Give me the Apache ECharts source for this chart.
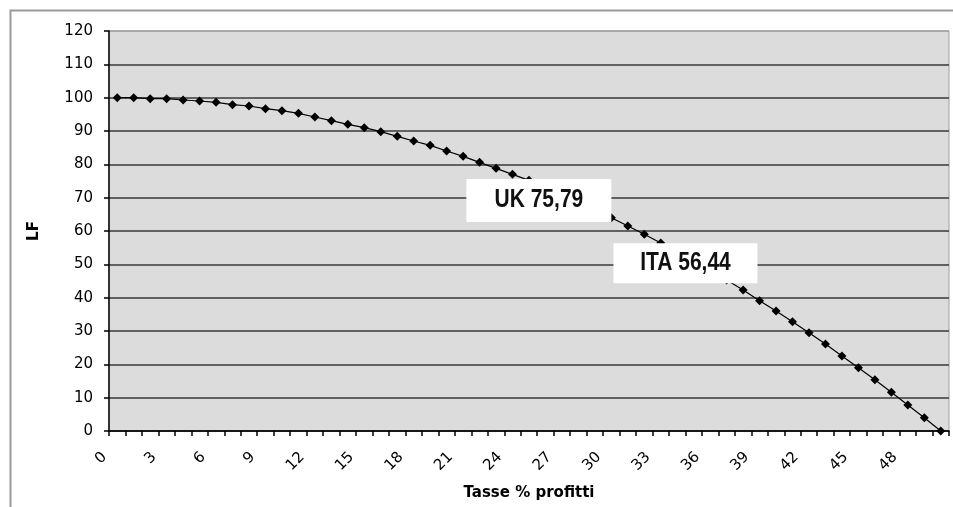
<!DOCTYPE html>
<html>
<head>
<meta charset="utf-8">
<script src="https://cdn.jsdelivr.net/npm/echarts@6/dist/echarts.min.js"></script>
<style>
html,body{margin:0;padding:0;background:#fff;}
#chart{width:953px;height:507px;}
</style>
</head>
<body>
<div id="chart"></div>
<script>
// Categories: taxes % of profits
const categories = [];
for (let i = 0; i <= 50; i++) categories.push(String(i));

// LF values
const lfValues = [
  100, 100, 99.7, 99.7, 99.3, 99.0, 98.6, 97.9, 97.5, 96.7,
  96.1, 95.3, 94.2, 93.1, 92.0, 91.0, 89.8, 88.4, 87.0, 85.7,
  84.0, 82.4, 80.6, 78.8, 77.0, 75.2, 73.0, 70.8, 68.6, 66.3,
  64.0, 61.5, 59.0, 56.4, 53.8, 51.0, 48.2, 45.3, 42.3, 39.1,
  36.0, 32.8, 29.5, 26.1, 22.5, 19.0, 15.4, 11.6, 7.8, 4.0,
  0
];

// Annotation labels (text and position in data units: category index, LF)
const annotationTexts = ['UK 75,79', 'ITA 56,44'];
const annotationPos = [[25.6, 69.15], [34.5, 50.3]];

const yTicks = [0,10,20,30,40,50,60,70,80,90,100,110,120];

const chart = echarts.init(document.getElementById('chart'), null, {renderer: 'canvas'});
const gridColors = yTicks.map((v, i) => i === yTicks.length - 1 ? '#a0a0a0' : '#3a3a3a');

const option = {
  animation: false,
  backgroundColor: '#ffffff',
  grid: {
    left: 109, right: 4, top: 31, bottom: 76,
    show: true, backgroundColor: '#dcdcdc', borderColor: '#a0a0a0', borderWidth: 1
  },
  xAxis: {
    type: 'category',
    data: categories,
    boundaryGap: true,
    name: 'Tasse % profitti',
    nameLocation: 'middle',
    nameGap: 55,
    nameTextStyle: {fontFamily: 'DejaVu Sans', fontWeight: 'bold', fontSize: 15, color: '#000'},
    axisLine: {show: true, lineStyle: {color: '#000', width: 1.5}},
    axisTick: {show: true, interval: 0, length: 5, lineStyle: {color: '#000', width: 1.5}},
    axisLabel: {
      interval: 2, rotate: 45, margin: 11,
      padding: [0, 18, 0, 0],
      fontFamily: 'DejaVu Sans', fontSize: 15, color: '#000'
    },
    splitLine: {show: false}
  },
  yAxis: {
    type: 'value',
    min: 0, max: 120, interval: 10,
    name: 'LF',
    nameLocation: 'middle',
    nameGap: 67,
    nameTextStyle: {fontFamily: 'DejaVu Sans', fontWeight: 'bold', fontSize: 15, color: '#000'},
    axisLine: {show: true, lineStyle: {color: '#000', width: 1.5}},
    axisTick: {show: true, length: 5, lineStyle: {color: '#000', width: 1.5}},
    axisLabel: {margin: 16, fontFamily: 'DejaVu Sans', fontSize: 15, color: '#000'},
    splitLine: {show: true, lineStyle: {color: gridColors, width: 1.5}}
  },
  series: [{
    type: 'line',
    data: lfValues,
    symbol: 'diamond',
    symbolSize: 9,
    showAllSymbol: true,
    lineStyle: {color: '#000', width: 1.2},
    itemStyle: {color: '#000'},
    z: 5
  }],
  graphic: [{
    type: 'rect', left: 8, top: 8,
    shape: {width: 1000, height: 600},
    style: {fill: 'none', stroke: '#9a9a9a', lineWidth: 2},
    silent: true, z: -10
  }]
};
chart.setOption(option);

// Place the annotation boxes at data positions (interpolating the category scale)
const p0 = chart.convertToPixel({gridIndex: 0}, [0, 0]);
const p1 = chart.convertToPixel({gridIndex: 0}, [1, 10]);
const boxW = [145, 144], boxH = [43, 40];
const extra = annotationTexts.map((t, i) => {
  const px = p0[0] + (p1[0] - p0[0]) * annotationPos[i][0];
  const py = p0[1] + (p1[1] - p0[1]) * annotationPos[i][1] / 10;
  return {
    type: 'group', x: px, y: py, z: 100,
    children: [
      {type: 'rect', shape: {x: -boxW[i] / 2, y: -boxH[i] / 2, width: boxW[i], height: boxH[i]},
       style: {fill: '#ffffff'}, z: 100},
      {type: 'text', x: 0, y: 0, scaleX: 0.84, z: 101,
       style: {text: t, fill: '#111', font: 'bold 25px "Liberation Sans", Arial, sans-serif',
               textAlign: 'center', textVerticalAlign: 'middle'}}
    ]
  };
});
chart.setOption({graphic: option.graphic.concat(extra)});
</script>
</body>
</html>
